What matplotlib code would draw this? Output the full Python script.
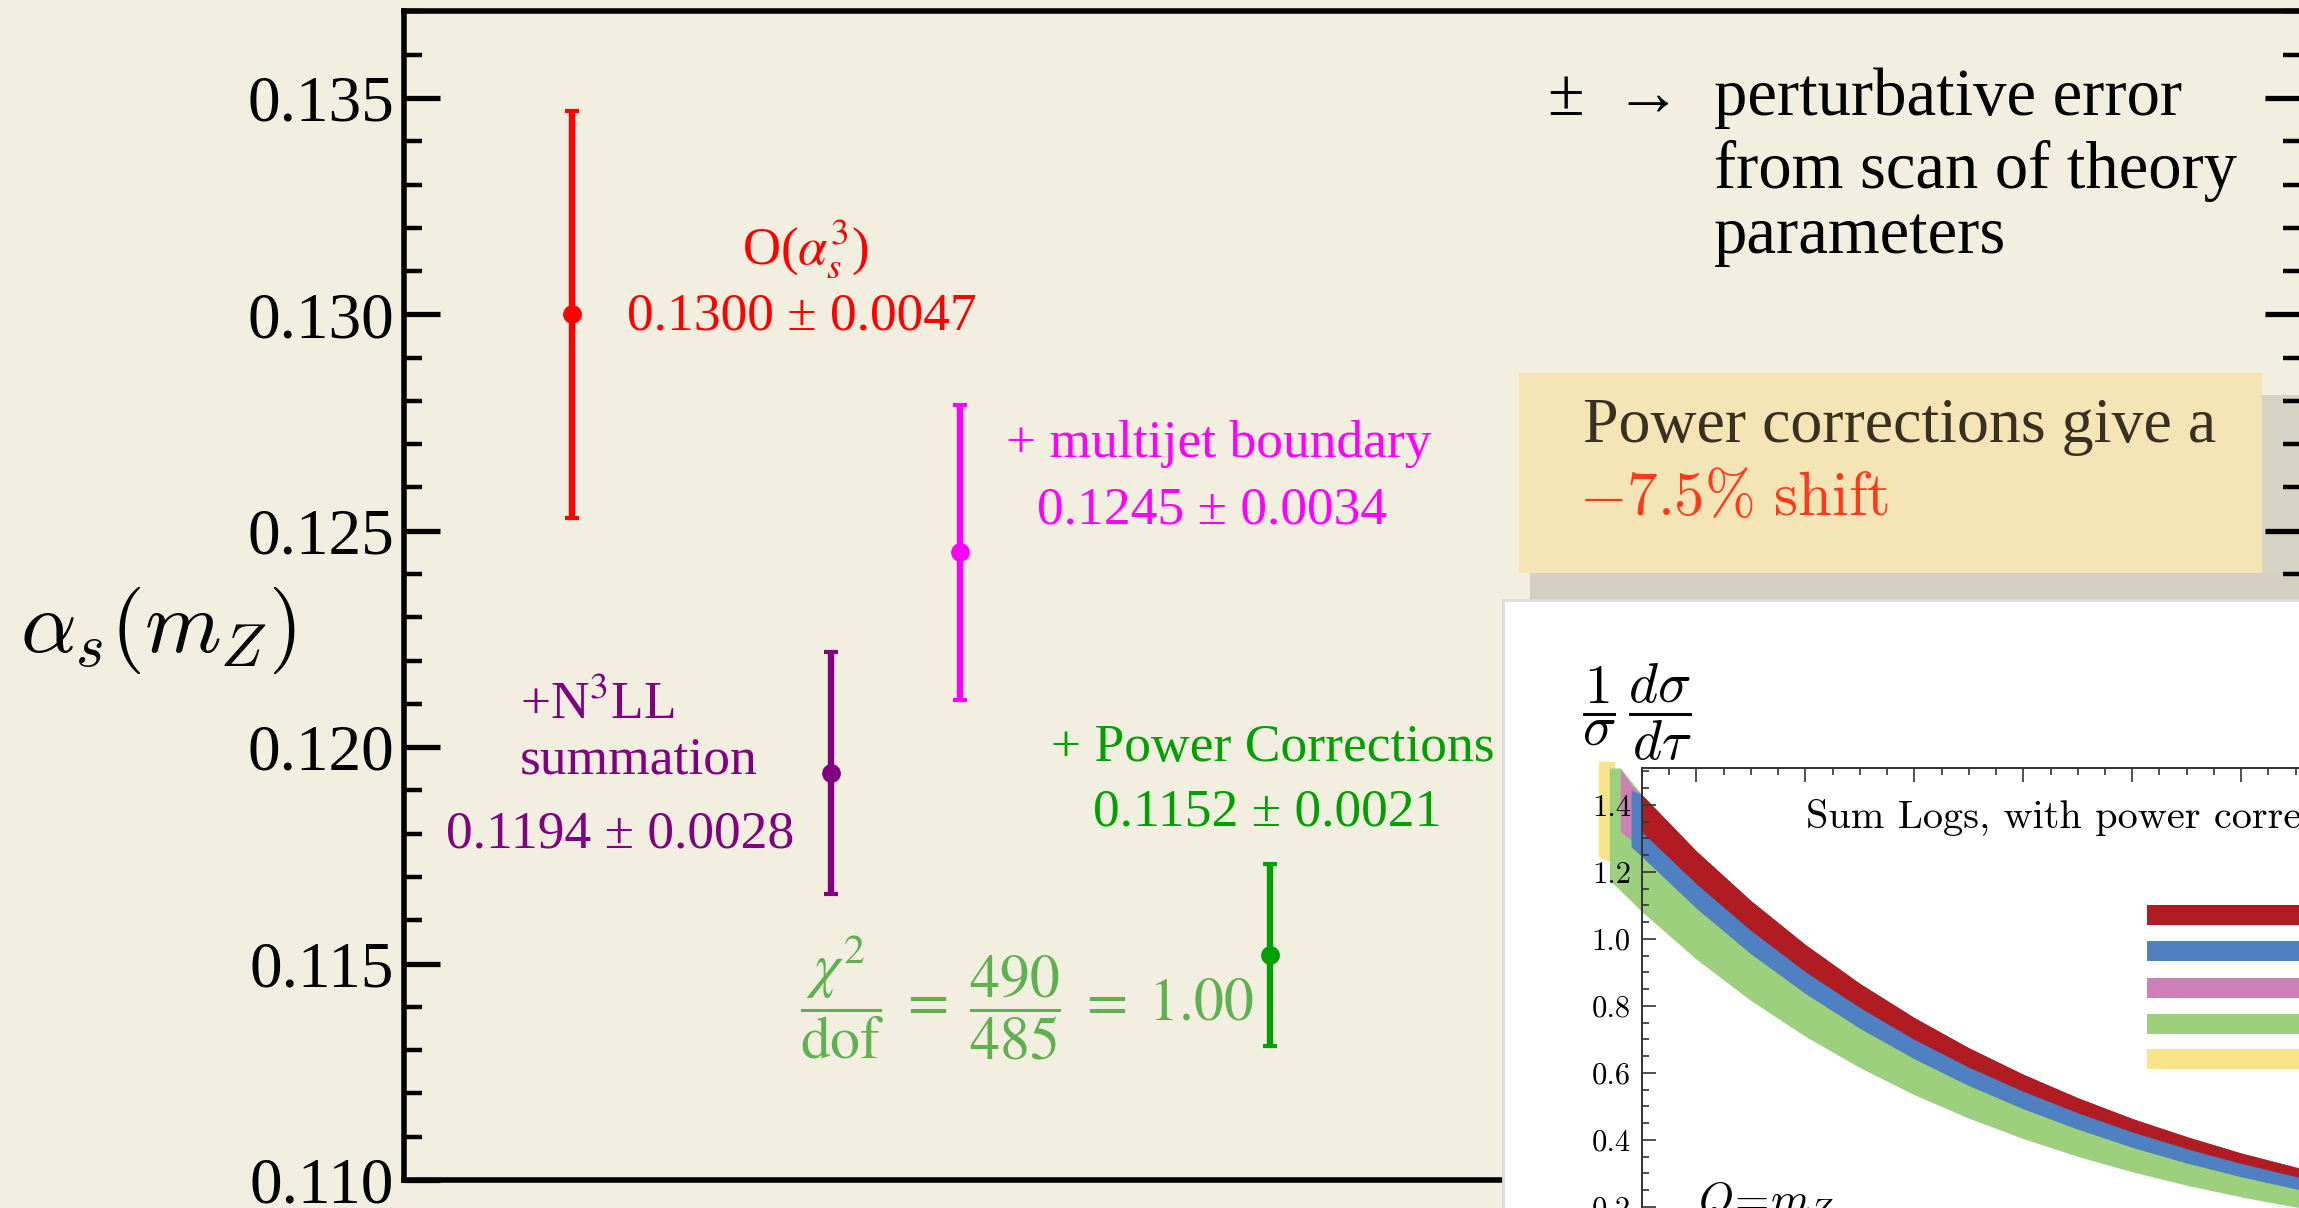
import matplotlib
matplotlib.use('Agg')
import matplotlib.pyplot as plt
from matplotlib.patches import Polygon
from matplotlib.ticker import MultipleLocator, FormatStrFormatter

W, H = 2299, 1208
serif = ['Liberation Serif', 'DejaVu Serif']

# alpha_s fits
labels = ['O(as3)', 'N3LL', 'multijet', 'power']
xpos = [0.886, 2.25, 2.93, 4.565]
alpha = [0.1300, 0.1194, 0.1245, 0.1152]
err = [0.0047, 0.0028, 0.0034, 0.0021]
colors = ['#ff0000', '#800080', '#ff00ff', '#00a000']

# inset thrust bands (tau, 1/sigma dsigma/dtau)
tau = [0.075, 0.100, 0.125, 0.150, 0.175, 0.200, 0.225, 0.250,
       0.275, 0.300, 0.325, 0.350, 0.375, 0.400, 0.425, 0.450]
red_top = [1.430, 1.262, 1.114, 0.983, 0.867, 0.765, 0.675, 0.596,
           0.526, 0.464, 0.410, 0.361, 0.319, 0.282, 0.249, 0.220]
red_bot = [1.319, 1.164, 1.025, 0.902, 0.795, 0.700, 0.617, 0.545,
           0.481, 0.424, 0.374, 0.330, 0.291, 0.257, 0.227, 0.200]
blue_bot = [1.245, 1.091, 0.955, 0.837, 0.733, 0.642, 0.562, 0.493,
            0.432, 0.378, 0.331, 0.290, 0.254, 0.223, 0.195, 0.171]
green_bot = [1.081, 0.939, 0.816, 0.709, 0.616, 0.535, 0.465, 0.404,
             0.351, 0.305, 0.265, 0.230, 0.200, 0.174, 0.151, 0.131]
# band stubs sticking out left of the frame
yel_tau, yel_hi, yel_lo = [0.055, 0.0625], [1.53, 1.53], [1.245, 1.225]
mag_tau, mag_hi, mag_lo = [0.065, 0.070, 0.075], [1.51, 1.46, 1.43], [1.32, 1.295, 1.275]
grn_tau, grn_hi, grn_lo = [0.060, 0.065, 0.070], [1.51, 1.51, 1.47], [1.176, 1.145, 1.113]
blu_tau, blu_hi, blu_lo = [0.070], [1.445], [1.275]
band_cols = {'red': '#b01c22', 'blue': '#4e80c2', 'magenta': '#cd80b6',
             'green': '#9dd07d', 'yellow': '#f9e48a'}


def fx(x):
    return x / W


def fy(y):
    return 1 - y / H


def rect(x0, y0, x1, y1):
    return [(fx(x0), fy(y0)), (fx(x1), fy(y0)), (fx(x1), fy(y1)), (fx(x0), fy(y1))]


fig = plt.figure(figsize=(W / 100, H / 100), dpi=100, facecolor='#f2eee0')

# main panel
ax = fig.add_axes([fx(404), fy(1180), (2301 - 404) / W, (1180 - 11.4) / H])
ax.set_facecolor('none')
ax.set_xlim(0, 10)
ax.set_ylim(0.110, 0.137)
for s in ax.spines.values():
    s.set_linewidth(4)
ax.set_xticks([])
ax.yaxis.set_major_locator(MultipleLocator(0.005))
ax.yaxis.set_minor_locator(MultipleLocator(0.001))
ax.yaxis.set_major_formatter(FormatStrFormatter('%.3f'))
ax.tick_params(axis='y', which='both', direction='in', left=True, right=True)
ax.tick_params(axis='y', which='major', length=26, width=3.8, pad=7,
               labelsize=47, labelfontfamily='Liberation Serif')
ax.tick_params(axis='y', which='minor', length=13, width=3.2)

for x, y, e, c in zip(xpos, alpha, err, colors):
    ax.errorbar(x, y, yerr=e, fmt='o', color=c, ms=12.5, lw=4.6,
                capsize=5, capthick=3, zorder=3)

fig.text(fx(20), fy(630), r'$\alpha_s(m_Z)$', fontsize=63, math_fontfamily='cm',
         va='center', ha='left')

fig.text(fx(805), fy(264), r'O($\alpha_s^3$)', fontsize=38, family=serif,
         math_fontfamily='stix', color=colors[0], ha='center', va='baseline')
fig.text(fx(627), fy(330), '0.1300 ± 0.0047', fontsize=38.5, family=serif,
         color=colors[0], va='baseline')
fig.text(fx(1006), fy(457), '+ multijet boundary', fontsize=38.5, family=serif,
         color=colors[2], va='baseline')
fig.text(fx(1037), fy(523), '0.1245 ± 0.0034', fontsize=38.5, family=serif,
         color=colors[2], va='baseline')
fig.text(fx(520), fy(719), r'+N$^3$LL', fontsize=38.5, family=serif,
         math_fontfamily='stix', color=colors[1], va='baseline')
fig.text(fx(520), fy(774), 'summation', fontsize=38.5, family=serif,
         color=colors[1], va='baseline')
fig.text(fx(446), fy(847), '0.1194 ± 0.0028', fontsize=38.5, family=serif,
         color=colors[1], va='baseline')
fig.text(fx(1051), fy(761), '+ Power Corrections', fontsize=38.5, family=serif,
         color=colors[3], va='baseline')
fig.text(fx(1093), fy(826), '0.1152 ± 0.0021', fontsize=38.5, family=serif,
         color=colors[3], va='baseline')
fig.text(fx(800), fy(997),
         r'$\dfrac{\chi^2}{\mathrm{dof}}\;=\;\dfrac{490}{485}\;=\;1.00$',
         fontsize=43, math_fontfamily='stix', color='#5fb14f', va='center')

fig.text(fx(1547), fy(115), '±', fontsize=48, family=serif, va='baseline')
fig.text(fx(1614), fy(115), '→', fontsize=48, family=serif, va='baseline')
for txt, yb in zip(['perturbative error', 'from scan of theory', 'parameters'],
                   [115, 188, 253]):
    fig.text(fx(1714), fy(yb), txt, fontsize=48, family=serif, va='baseline')

# torn yellow note + shadow
fig.add_artist(Polygon(rect(1530, 573, 2299, 602), closed=True, transform=fig.transFigure,
                       facecolor='#cdc8b8', edgecolor='none', alpha=0.8, zorder=-1))
fig.add_artist(Polygon(rect(2262, 395, 2299, 575), closed=True, transform=fig.transFigure,
                       facecolor='#d6d2c4', edgecolor='none', zorder=-1))
fig.add_artist(Polygon(rect(1519, 373, 2262, 573), closed=True, transform=fig.transFigure,
                       facecolor='#f5e5b6', edgecolor='none', zorder=-1))
fig.text(fx(1583), fy(442), 'Power corrections give a', fontsize=46, family=serif,
         color='#3a3020', va='baseline')
fig.text(fx(1579), fy(515), r'$-7.5\%\ \mathrm{shift}$', fontsize=44,
         math_fontfamily='cm', color='#ff3a1a', va='baseline')

# white inset sheet
fig.add_artist(Polygon(rect(1503, 600, 2305, 1215), closed=True, transform=fig.transFigure,
                       facecolor='white', edgecolor='#dcdcdc', lw=2, zorder=1))

ax_in = fig.add_axes([fx(1642), fy(1274), (2459 - 1642) / W, (1274 - 768) / H], zorder=2)
ax_in.set_facecolor('none')
ax_in.set_xlim(0.075, 0.45)
ax_in.set_ylim(0, 1.51)
for s in ax_in.spines.values():
    s.set_linewidth(1.4)
    s.set_color('#333333')
ax_in.xaxis.set_major_locator(MultipleLocator(0.05))
ax_in.xaxis.set_minor_locator(MultipleLocator(0.0125))
ax_in.yaxis.set_major_locator(MultipleLocator(0.2))
ax_in.yaxis.set_minor_locator(MultipleLocator(0.05))
ax_in.yaxis.set_major_formatter(FormatStrFormatter('%.1f'))
ax_in.tick_params(which='both', direction='in', top=True, left=True,
                  labelbottom=False, labeltop=False, color='#333333', width=1.2)
ax_in.tick_params(which='major', length=10, pad=8, labelsize=22, labelfontfamily='cmr10')
ax_in.tick_params(which='minor', length=5)

ax_in.fill_between(yel_tau, yel_lo, yel_hi, color=band_cols['yellow'], lw=0, clip_on=False)
ax_in.fill_between(grn_tau + tau, grn_lo + green_bot, grn_hi + red_top,
                   color=band_cols['green'], lw=0, clip_on=False)
ax_in.fill_between(mag_tau, mag_lo, mag_hi, color=band_cols['magenta'], lw=0, clip_on=False)
ax_in.fill_between(blu_tau + tau, blu_lo + blue_bot, blu_hi + red_top,
                   color=band_cols['blue'], lw=0, clip_on=False)
ax_in.fill_between(tau, red_bot, red_top, color=band_cols['red'], lw=0, clip_on=False)

for key, yf in zip(['red', 'blue', 'magenta', 'green', 'yellow'],
                   [0.709, 0.638, 0.566, 0.495, 0.424]):
    ax_in.plot([0.618, 1.0], [yf, yf], transform=ax_in.transAxes, lw=14.4,
               color=band_cols[key], solid_capstyle='butt')

ax_in.text(fx(1806), fy(828), 'Sum Logs, with power corrections', transform=fig.transFigure,
           fontfamily='cmr10', fontsize=29, va='baseline')
ax_in.text(fx(1637), fy(712), r'$\dfrac{1}{\sigma}\,\dfrac{d\sigma}{d\tau}$',
           transform=fig.transFigure, ha='center', va='center', fontsize=40,
           math_fontfamily='cm')
ax_in.text(fx(1698), fy(1180), r'$Q\!=\!m_Z$', transform=fig.transFigure, va='top',
           fontsize=32, math_fontfamily='cm')

fig.savefig('out.png', dpi=100, facecolor=fig.get_facecolor())
